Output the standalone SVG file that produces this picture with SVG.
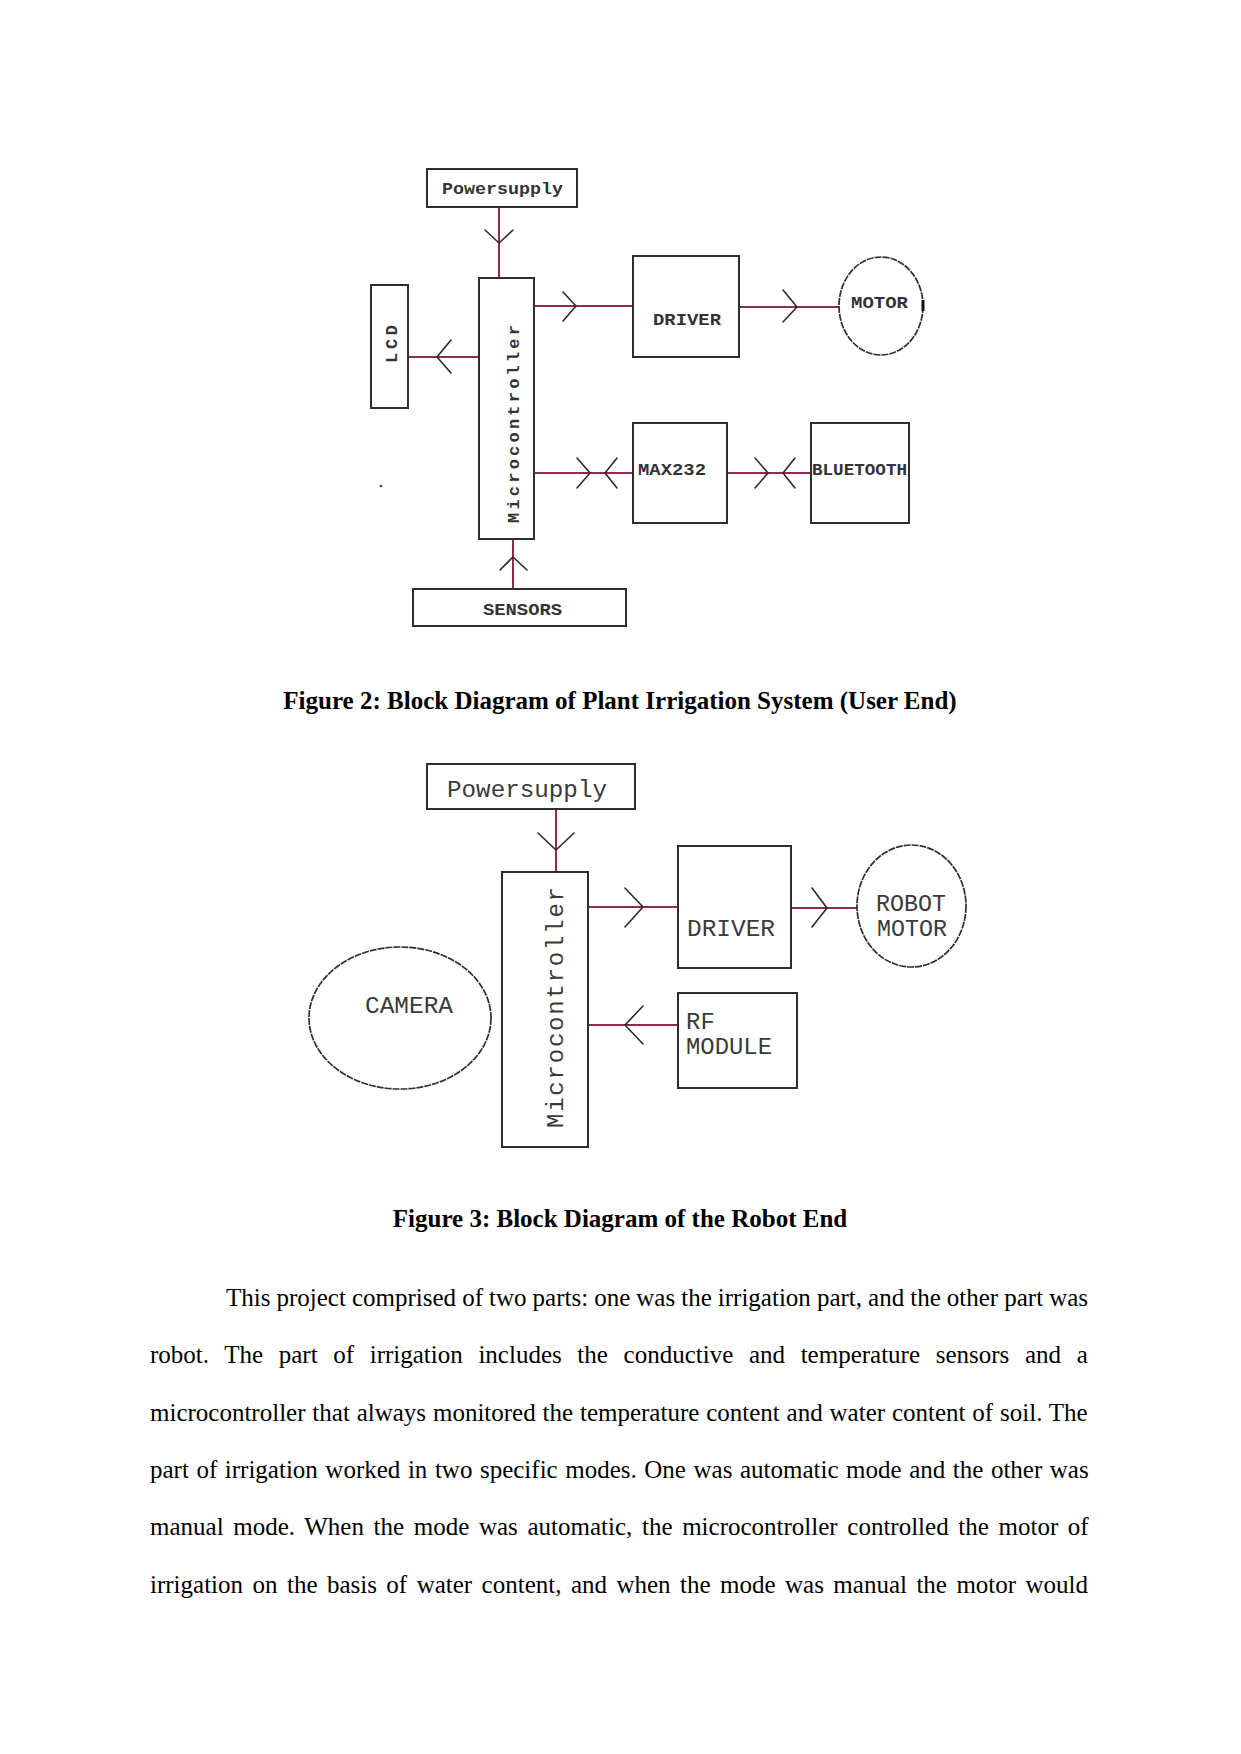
<svg xmlns="http://www.w3.org/2000/svg" width="1241" height="1754" viewBox="0 0 1241 1754">
<style>
.bg{fill:#ffffff}
.box{fill:#ffffff;stroke:#2e2e2e;stroke-width:2}
.oval{fill:#ffffff;stroke:#2e2e2e;stroke-width:1.7;stroke-dasharray:7 1}
.wire{fill:none;stroke:#8b2c50;stroke-width:2}
.head{fill:none;stroke:#2a2a2a;stroke-width:1.6;stroke-linecap:round;stroke-linejoin:round}
.t2{font-family:"Liberation Mono","DejaVu Sans Mono",monospace;font-size:17px;font-weight:bold;fill:#333333}
.t3{font-family:"Liberation Mono","DejaVu Sans Mono",monospace;font-size:24px;fill:#3a3a3a}
.cap{font-family:"Liberation Serif","Times New Roman",serif;font-size:25px;font-weight:bold;fill:#000000;text-anchor:middle}
.body{font-family:"Liberation Serif","Times New Roman",serif;font-size:25px;fill:#000000}
</style>
<rect class="bg" x="0" y="0" width="1241" height="1754"/>

<!-- ===== Figure 2 ===== -->
<g id="fig2-connectors">
  <line class="wire" x1="499" y1="207" x2="499" y2="278"/>
  <polyline class="head" points="485,230 499,243 513,230"/>
  <line class="wire" x1="534" y1="306" x2="633" y2="306"/>
  <polyline class="head" points="563,292 576,306 563,321"/>
  <line class="wire" x1="739" y1="307" x2="839" y2="307"/>
  <polyline class="head" points="783,290 797,307 783,322"/>
  <line class="wire" x1="408" y1="357" x2="479" y2="357"/>
  <polyline class="head" points="451,340 437,357 451,373"/>
  <line class="wire" x1="534" y1="473" x2="633" y2="473"/>
  <polyline class="head" points="577,458 590,473 577,488"/>
  <polyline class="head" points="617,458 605,473 617,488"/>
  <line class="wire" x1="727" y1="473" x2="811" y2="473"/>
  <polyline class="head" points="755,458 768,473 755,488"/>
  <polyline class="head" points="795,458 783,473 795,488"/>
  <line class="wire" x1="513" y1="589" x2="513" y2="539"/>
  <polyline class="head" points="500,570 513,557 527,570"/>
</g>
<g id="fig2-powersupply">
  <rect class="box" x="427" y="169" width="150" height="38"/>
  <text class="t2" x="442" y="194" textLength="121" lengthAdjust="spacingAndGlyphs">Powersupply</text>
</g>
<g id="fig2-microcontroller">
  <rect class="box" x="479" y="278" width="55" height="261"/>
  <text class="t2" transform="translate(519,523) rotate(-90)" x="0" y="0" textLength="198" lengthAdjust="spacing">Microcontroller</text>
</g>
<g id="fig2-lcd">
  <rect class="box" x="371" y="285" width="37" height="123"/>
  <text class="t2" transform="translate(397,363) rotate(-90)" x="0" y="0" textLength="38" lengthAdjust="spacing">LCD</text>
</g>
<g id="fig2-driver">
  <rect class="box" x="633" y="256" width="106" height="101"/>
  <text class="t2" x="653" y="325" textLength="68" lengthAdjust="spacingAndGlyphs">DRIVER</text>
</g>
<g id="fig2-motor">
  <ellipse class="oval" cx="881" cy="306" rx="42" ry="49"/>
  <line x1="923" y1="300" x2="923" y2="311" stroke="#111111" stroke-width="3"/>
  <text class="t2" x="851" y="308" textLength="57" lengthAdjust="spacingAndGlyphs">MOTOR</text>
</g>
<g id="fig2-max232">
  <rect class="box" x="633" y="423" width="94" height="100"/>
  <text class="t2" x="638" y="475" textLength="68" lengthAdjust="spacingAndGlyphs">MAX232</text>
</g>
<g id="fig2-bluetooth">
  <rect class="box" x="811" y="423" width="98" height="100"/>
  <text class="t2" x="812" y="475" textLength="95" lengthAdjust="spacingAndGlyphs">BLUETOOTH</text>
</g>
<g id="fig2-sensors">
  <rect class="box" x="413" y="589" width="213" height="37"/>
  <text class="t2" x="483" y="615" textLength="79" lengthAdjust="spacingAndGlyphs">SENSORS</text>
</g>
<circle cx="381" cy="486" r="1.3" fill="#444444"/>

<text class="cap" x="620" y="709">Figure 2: Block Diagram of Plant Irrigation System (User End)</text>

<!-- ===== Figure 3 ===== -->
<g id="fig3-connectors">
  <line class="wire" x1="556" y1="809" x2="556" y2="872"/>
  <polyline class="head" points="538,833 556,850 574,833"/>
  <line class="wire" x1="588" y1="907" x2="678" y2="907"/>
  <polyline class="head" points="625,888 643,907 625,927"/>
  <line class="wire" x1="791" y1="908" x2="857" y2="908"/>
  <polyline class="head" points="812,888 827,908 812,927"/>
  <line class="wire" x1="588" y1="1025" x2="678" y2="1025"/>
  <polyline class="head" points="643,1006 625,1025 643,1044"/>
</g>
<g id="fig3-powersupply">
  <rect class="box" x="427" y="764" width="208" height="45"/>
  <text class="t3" x="447" y="797" textLength="160" lengthAdjust="spacingAndGlyphs">Powersupply</text>
</g>
<g id="fig3-microcontroller">
  <rect class="box" x="502" y="872" width="86" height="275"/>
  <text class="t3" transform="translate(563,1128) rotate(-90)" x="0" y="0" textLength="241" lengthAdjust="spacing">Microcontroller</text>
</g>
<g id="fig3-camera">
  <ellipse class="oval" cx="400" cy="1018" rx="91" ry="71"/>
  <text class="t3" x="365" y="1013" textLength="88" lengthAdjust="spacingAndGlyphs">CAMERA</text>
</g>
<g id="fig3-driver">
  <rect class="box" x="678" y="846" width="113" height="122"/>
  <text class="t3" x="687" y="936" textLength="88" lengthAdjust="spacingAndGlyphs">DRIVER</text>
</g>
<g id="fig3-robotmotor">
  <ellipse class="oval" cx="911.5" cy="906" rx="54.5" ry="61"/>
  <text class="t3" x="876" y="911" textLength="70" lengthAdjust="spacingAndGlyphs">ROBOT</text>
  <text class="t3" x="877" y="936" textLength="70" lengthAdjust="spacingAndGlyphs">MOTOR</text>
</g>
<g id="fig3-rfmodule">
  <rect class="box" x="678" y="993" width="119" height="95"/>
  <text class="t3" x="686" y="1029">RF</text>
  <text class="t3" x="686" y="1054" textLength="86" lengthAdjust="spacingAndGlyphs">MODULE</text>
</g>

<text class="cap" x="620" y="1227">Figure 3: Block Diagram of the Robot End</text>

<!-- ===== Body text ===== -->
<text class="body" x="226" y="1306" word-spacing="-0.2">This project comprised of two parts: one was the irrigation part, and the other part was</text>
<text class="body" x="150" y="1363" word-spacing="9.4">robot. The part of irrigation includes the conductive and temperature sensors and a</text>
<text class="body" x="150" y="1421" word-spacing="0.6">microcontroller that always monitored the temperature content and water content of soil. The</text>
<text class="body" x="150" y="1478" word-spacing="1.3">part of irrigation worked in two specific modes. One was automatic mode and the other was</text>
<text class="body" x="150" y="1535" word-spacing="3.4">manual mode. When the mode was automatic, the microcontroller controlled the motor of</text>
<text class="body" x="150" y="1593" word-spacing="3.2">irrigation on the basis of water content, and when the mode was manual the motor would</text>
</svg>
